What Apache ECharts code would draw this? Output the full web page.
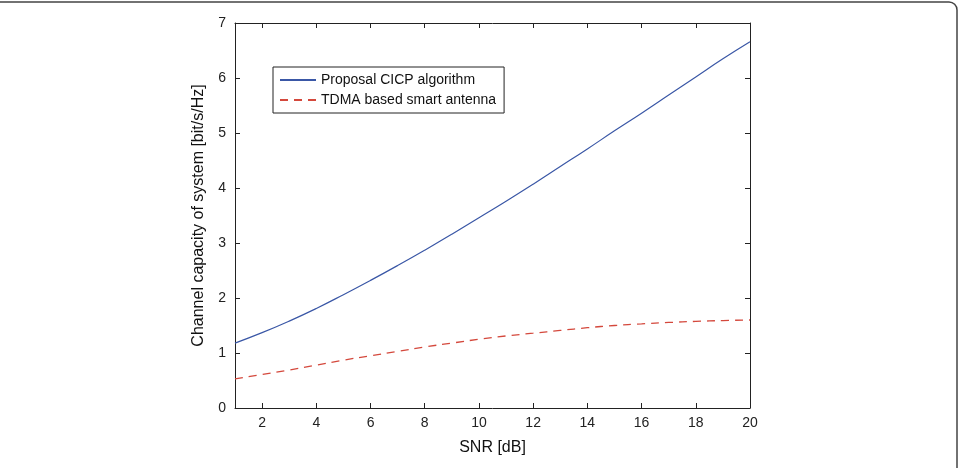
<!DOCTYPE html>
<html>
<head>
<meta charset="utf-8">
<script src="https://cdn.jsdelivr.net/npm/echarts@6/dist/echarts.min.js"></script>
<style>
  html, body { margin: 0; padding: 0; background: #fff; }
  #chart { width: 960px; height: 468px; }
</style>
</head>
<body>
<div id="chart"></div>
<script>
// SNR in dB
const snr = [1, 2, 3, 4, 5, 6, 7, 8, 9, 10, 11, 12, 13, 14, 15, 16, 17, 18, 19, 20];
const cicp = [1.18, 1.37, 1.58, 1.81, 2.06, 2.32, 2.59, 2.87, 3.16, 3.46, 3.76, 4.07, 4.39, 4.71, 5.04, 5.36, 5.69, 6.02, 6.35, 6.66];
const tdma = [0.53, 0.61, 0.69, 0.78, 0.87, 0.95, 1.03, 1.11, 1.18, 1.25, 1.31, 1.36, 1.41, 1.46, 1.50, 1.53, 1.555, 1.575, 1.59, 1.60];
const xTicks = [2, 4, 6, 8, 10, 12, 14, 16, 18, 20];

const font = 'Liberation Sans, Arial, sans-serif';
const chart = echarts.init(document.getElementById('chart'));

const pairs = (ys) => snr.map((x, i) => [x, ys[i]]);

// 盒状坐标轴：上、右两条只画刻度
const boxAxis = {
  axisLine: { show: true, onZero: false, lineStyle: { color: '#222', width: 1 } },
  axisTick: { inside: true, length: 5, lineStyle: { color: '#222' } },
  splitLine: { show: false }
};

chart.setOption({
  animation: false,
  textStyle: { fontFamily: font },
  grid: { left: 235, right: 210, top: 23, bottom: 60 },
  legend: {
    left: 273, top: 67,
    orient: 'vertical',
    itemWidth: 36, itemHeight: 10, itemGap: 6,
    padding: [6, 8, 6, 6],
    borderColor: '#222', borderWidth: 1,
    itemStyle: { opacity: 0 },
    textStyle: { fontSize: 14, color: '#111', fontFamily: font },
    data: ['Proposal CICP algorithm', 'TDMA based smart antenna']
  },
  graphic: [{
    type: 'rect',
    shape: { x: -12, y: 2, width: 969, height: 490, r: 8 },
    style: { fill: 'none', stroke: '#444', lineWidth: 1.5 },
    silent: true
  }],
  xAxis: [{
    type: 'value', min: 1, max: 20,
    name: 'SNR [dB]', nameLocation: 'middle', nameGap: 32,
    nameTextStyle: { fontSize: 16, color: '#111', fontFamily: font },
    ...boxAxis,
    axisTick: { ...boxAxis.axisTick, customValues: xTicks },
    axisLabel: { customValues: xTicks, fontSize: 14, color: '#222', margin: 8 }
  }, {
    type: 'value', min: 1, max: 20, position: 'top',
    ...boxAxis,
    axisTick: { ...boxAxis.axisTick, customValues: xTicks },
    axisLabel: { show: false }
  }],
  yAxis: [{
    type: 'value', min: 0, max: 7, interval: 1,
    name: 'Channel capacity of system [bit/s/Hz]', nameLocation: 'middle', nameGap: 28,
    nameTextStyle: { fontSize: 16, color: '#111', fontFamily: font },
    ...boxAxis,
    axisLabel: { fontSize: 14, color: '#222', margin: 9 }
  }, {
    type: 'value', min: 0, max: 7, interval: 1, position: 'right',
    ...boxAxis,
    axisLabel: { show: false }
  }],
  series: [{
    name: 'Proposal CICP algorithm',
    type: 'line', smooth: true, symbol: 'none',
    color: '#3a57a6',
    lineStyle: { width: 1.2, color: '#3a57a6' },
    data: pairs(cicp)
  }, {
    name: 'TDMA based smart antenna',
    type: 'line', smooth: true, symbol: 'none',
    color: '#d4483c',
    lineStyle: { width: 1.3, color: '#d4483c', type: [8, 6] },
    data: pairs(tdma)
  }]
});
</script>
</body>
</html>
